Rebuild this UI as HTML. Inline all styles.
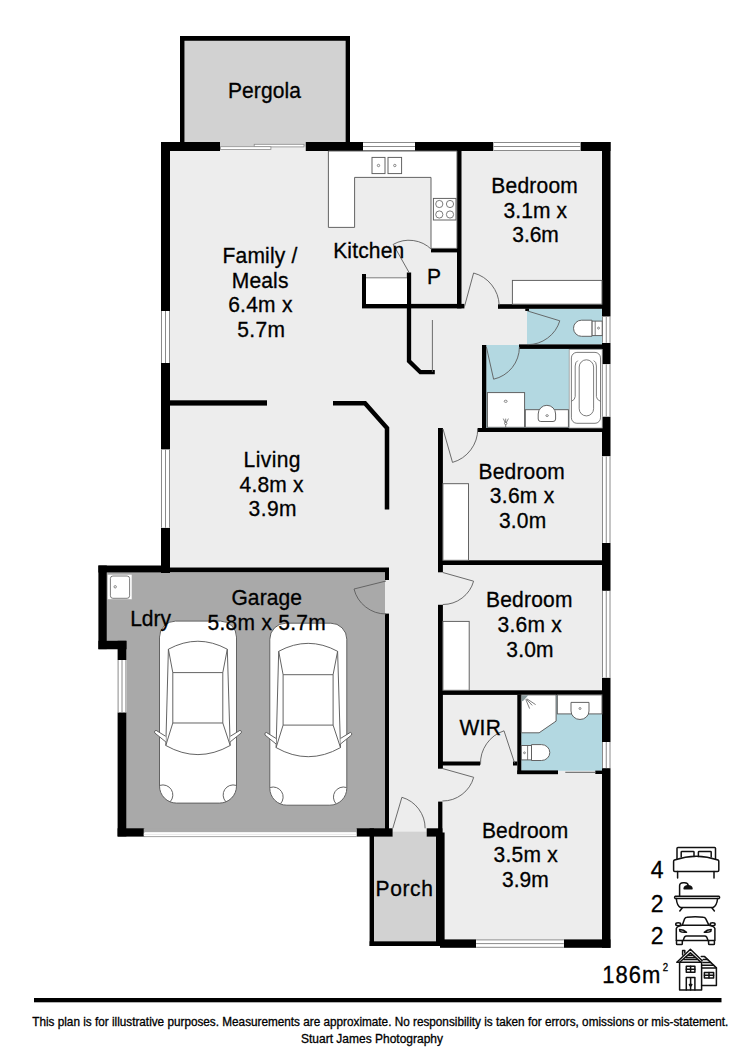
<!DOCTYPE html><html><head><meta charset="utf-8"><style>html,body{margin:0;padding:0;background:#fff;}svg{display:block;}text{font-family:"Liberation Sans",sans-serif;}</style></head><body>
<svg width="750" height="1061" viewBox="0 0 750 1061">
<rect width="750" height="1061" fill="#fff"/>
<rect x="184.50" y="40.80" width="161.10" height="101.20" fill="#d2d2d2" />
<rect x="170.00" y="151.00" width="432.00" height="416.50" fill="#ededed" />
<rect x="385.00" y="567.00" width="217.00" height="373.00" fill="#ededed" />
<polygon points="106.8,572.5 385,572.5 385,829.3 126.4,829.3 126.4,649.2 106.8,649.2" fill="#a9a9a9"/>
<rect x="374.00" y="836.00" width="62.00" height="105.30" fill="#d2d2d2" />
<rect x="392.60" y="831.70" width="34.10" height="4.90" fill="#d2d2d2" />
<rect x="527.00" y="308.80" width="75.00" height="35.60" fill="#b3d8e1" />
<rect x="486.30" y="345.00" width="115.70" height="83.00" fill="#b3d8e1" />
<rect x="521.30" y="694.90" width="80.70" height="75.90" fill="#b3d8e1" />
<rect x="180.00" y="36.00" width="170.00" height="4.80" fill="#000" />
<rect x="180.00" y="36.00" width="4.50" height="106.00" fill="#000" />
<rect x="345.60" y="36.00" width="4.40" height="106.00" fill="#000" />
<rect x="161.00" y="142.00" width="59.00" height="9.00" fill="#000" />
<rect x="305.50" y="142.00" width="57.50" height="9.00" fill="#000" />
<rect x="415.00" y="142.00" width="78.50" height="9.00" fill="#000" />
<rect x="580.40" y="142.00" width="30.10" height="9.00" fill="#000" />
<rect x="161.00" y="142.00" width="9.00" height="169.00" fill="#000" />
<rect x="161.00" y="363.00" width="9.00" height="86.60" fill="#000" />
<rect x="161.00" y="527.70" width="9.00" height="45.30" fill="#000" />
<rect x="602.00" y="142.00" width="8.50" height="174.70" fill="#000" />
<rect x="602.00" y="342.80" width="8.50" height="21.50" fill="#000" />
<rect x="602.00" y="416.50" width="8.50" height="39.90" fill="#000" />
<rect x="602.00" y="542.90" width="8.50" height="48.00" fill="#000" />
<rect x="602.00" y="677.60" width="8.50" height="64.40" fill="#000" />
<rect x="602.00" y="768.10" width="8.50" height="179.70" fill="#000" />
<rect x="440.00" y="939.40" width="36.10" height="8.40" fill="#000" />
<rect x="563.80" y="939.40" width="46.70" height="8.40" fill="#000" />
<rect x="98.40" y="565.50" width="71.60" height="7.00" fill="#000" />
<rect x="170.00" y="567.50" width="219.00" height="4.80" fill="#000" />
<rect x="98.40" y="565.50" width="8.40" height="83.70" fill="#000" />
<rect x="98.40" y="640.80" width="28.00" height="8.40" fill="#000" />
<rect x="117.60" y="640.80" width="8.80" height="19.20" fill="#000" />
<rect x="117.60" y="712.30" width="8.80" height="124.10" fill="#000" />
<rect x="117.60" y="828.30" width="27.00" height="8.30" fill="#000" />
<rect x="356.50" y="828.30" width="36.10" height="8.30" fill="#000" />
<rect x="426.70" y="828.30" width="15.70" height="8.30" fill="#000" />
<rect x="385.00" y="568.00" width="4.00" height="12.00" fill="#000" />
<rect x="385.00" y="613.60" width="4.00" height="215.40" fill="#000" />
<rect x="369.60" y="828.30" width="4.40" height="117.70" fill="#000" />
<rect x="369.60" y="941.30" width="70.40" height="4.70" fill="#000" />
<rect x="436.00" y="832.50" width="8.60" height="113.50" fill="#000" />
<rect x="220.00" y="142.00" width="85.50" height="4.50" fill="#d2d2d2" />
<rect x="220.00" y="146.50" width="85.50" height="4.50" fill="#ededed" />
<rect x="254.2" y="144.3" width="49.8" height="2.6" fill="#fff" stroke="#8a8a8a" stroke-width="0.8"/>
<rect x="220.5" y="146.7" width="50.4" height="2.7" fill="#fff" stroke="#8a8a8a" stroke-width="0.8"/>
<rect x="363.00" y="142.00" width="52.00" height="9.00" fill="#fff" />
<line x1="363" y1="142.50" x2="415" y2="142.50" stroke="#8a8a8a" stroke-width="1"/>
<line x1="363" y1="146.50" x2="415" y2="146.50" stroke="#8a8a8a" stroke-width="1"/>
<line x1="363" y1="150.50" x2="415" y2="150.50" stroke="#8a8a8a" stroke-width="1"/>
<rect x="493.50" y="142.00" width="86.90" height="9.00" fill="#fff" />
<line x1="493.5" y1="142.50" x2="580.4" y2="142.50" stroke="#8a8a8a" stroke-width="1"/>
<line x1="493.5" y1="146.50" x2="580.4" y2="146.50" stroke="#8a8a8a" stroke-width="1"/>
<line x1="493.5" y1="150.50" x2="580.4" y2="150.50" stroke="#8a8a8a" stroke-width="1"/>
<rect x="161.00" y="311.00" width="9.00" height="52.00" fill="#fff" />
<line x1="161.50" y1="311" x2="161.50" y2="363" stroke="#8a8a8a" stroke-width="1"/>
<line x1="165.50" y1="311" x2="165.50" y2="363" stroke="#8a8a8a" stroke-width="1"/>
<line x1="169.50" y1="311" x2="169.50" y2="363" stroke="#8a8a8a" stroke-width="1"/>
<rect x="161.00" y="449.60" width="9.00" height="78.10" fill="#fff" />
<line x1="161.50" y1="449.6" x2="161.50" y2="527.7" stroke="#8a8a8a" stroke-width="1"/>
<line x1="165.50" y1="449.6" x2="165.50" y2="527.7" stroke="#8a8a8a" stroke-width="1"/>
<line x1="169.50" y1="449.6" x2="169.50" y2="527.7" stroke="#8a8a8a" stroke-width="1"/>
<rect x="602.00" y="316.70" width="8.50" height="26.10" fill="#fff" />
<line x1="602.50" y1="316.7" x2="602.50" y2="342.8" stroke="#8a8a8a" stroke-width="1"/>
<line x1="606.25" y1="316.7" x2="606.25" y2="342.8" stroke="#8a8a8a" stroke-width="1"/>
<line x1="610.00" y1="316.7" x2="610.00" y2="342.8" stroke="#8a8a8a" stroke-width="1"/>
<rect x="602.00" y="364.30" width="8.50" height="52.20" fill="#fff" />
<line x1="602.50" y1="364.3" x2="602.50" y2="416.5" stroke="#8a8a8a" stroke-width="1"/>
<line x1="606.25" y1="364.3" x2="606.25" y2="416.5" stroke="#8a8a8a" stroke-width="1"/>
<line x1="610.00" y1="364.3" x2="610.00" y2="416.5" stroke="#8a8a8a" stroke-width="1"/>
<rect x="602.00" y="456.40" width="8.50" height="86.50" fill="#fff" />
<line x1="602.50" y1="456.4" x2="602.50" y2="542.9" stroke="#8a8a8a" stroke-width="1"/>
<line x1="606.25" y1="456.4" x2="606.25" y2="542.9" stroke="#8a8a8a" stroke-width="1"/>
<line x1="610.00" y1="456.4" x2="610.00" y2="542.9" stroke="#8a8a8a" stroke-width="1"/>
<rect x="602.00" y="590.90" width="8.50" height="86.70" fill="#fff" />
<line x1="602.50" y1="590.9" x2="602.50" y2="677.6" stroke="#8a8a8a" stroke-width="1"/>
<line x1="606.25" y1="590.9" x2="606.25" y2="677.6" stroke="#8a8a8a" stroke-width="1"/>
<line x1="610.00" y1="590.9" x2="610.00" y2="677.6" stroke="#8a8a8a" stroke-width="1"/>
<rect x="602.00" y="742.00" width="8.50" height="26.10" fill="#fff" />
<line x1="602.50" y1="742" x2="602.50" y2="768.1" stroke="#8a8a8a" stroke-width="1"/>
<line x1="606.25" y1="742" x2="606.25" y2="768.1" stroke="#8a8a8a" stroke-width="1"/>
<line x1="610.00" y1="742" x2="610.00" y2="768.1" stroke="#8a8a8a" stroke-width="1"/>
<rect x="476.10" y="939.40" width="87.70" height="8.40" fill="#fff" />
<line x1="476.1" y1="939.90" x2="563.8" y2="939.90" stroke="#8a8a8a" stroke-width="1"/>
<line x1="476.1" y1="943.60" x2="563.8" y2="943.60" stroke="#8a8a8a" stroke-width="1"/>
<line x1="476.1" y1="947.30" x2="563.8" y2="947.30" stroke="#8a8a8a" stroke-width="1"/>
<rect x="117.60" y="660.00" width="8.80" height="52.30" fill="#fff" />
<line x1="118.10" y1="660" x2="118.10" y2="712.3" stroke="#8a8a8a" stroke-width="1"/>
<line x1="122.00" y1="660" x2="122.00" y2="712.3" stroke="#8a8a8a" stroke-width="1"/>
<line x1="125.90" y1="660" x2="125.90" y2="712.3" stroke="#8a8a8a" stroke-width="1"/>
<rect x="143.70" y="828.30" width="212.80" height="4.10" fill="#a9a9a9" />
<rect x="143.70" y="832.40" width="212.80" height="3.80" fill="#fff" />
<line x1="143.7" y1="834.4" x2="356.5" y2="834.4" stroke="#d8d8d8" stroke-width="0.6"/>
<line x1="143.7" y1="836.6" x2="356.5" y2="836.6" stroke="#9a9a9a" stroke-width="0.9"/>
<rect x="457.00" y="151.00" width="4.50" height="157.40" fill="#000" />
<rect x="431.00" y="248.40" width="30.00" height="4.00" fill="#000" />
<rect x="362.00" y="303.90" width="102.40" height="4.50" fill="#000" />
<rect x="362.00" y="274.00" width="4.00" height="30.00" fill="#000" />
<polyline points="409,272.4 409,361 420.4,372.2 434.8,372.2" fill="none" stroke="#000" stroke-width="4.3"/>
<rect x="498.00" y="304.20" width="104.00" height="4.60" fill="#000" />
<rect x="519.00" y="344.40" width="83.00" height="4.50" fill="#000" />
<rect x="482.00" y="345.00" width="4.30" height="87.00" fill="#000" />
<rect x="477.60" y="428.00" width="124.40" height="4.00" fill="#000" />
<rect x="438.00" y="428.00" width="4.90" height="144.30" fill="#000" />
<rect x="438.00" y="604.80" width="4.90" height="163.90" fill="#000" />
<rect x="438.00" y="560.30" width="164.00" height="4.70" fill="#000" />
<rect x="438.00" y="690.30" width="164.00" height="4.60" fill="#000" />
<rect x="517.30" y="694.80" width="4.00" height="79.20" fill="#000" />
<rect x="438.00" y="761.50" width="42.00" height="4.00" fill="#000" />
<rect x="513.00" y="761.50" width="4.30" height="4.00" fill="#000" />
<rect x="517.30" y="770.40" width="40.70" height="3.80" fill="#000" />
<rect x="595.30" y="770.60" width="6.70" height="3.40" fill="#000" />
<rect x="438.10" y="801.60" width="4.30" height="34.40" fill="#000" />
<rect x="170.00" y="400.30" width="97.00" height="5.30" fill="#000" />
<polyline points="333,403.2 365,403.2 387,428 387,509.6" fill="none" stroke="#000" stroke-width="4.5"/>
<polygon points="328.4,151 457,151 457,248.4 431,248.4 431,177.4 354.6,177.4 354.6,227.4 328.4,227.4" fill="#fff" stroke="#5c5c5c" stroke-width="0.95"/>
<rect x="372" y="157.4" width="13" height="16.2" fill="#fff" stroke="#5c5c5c" stroke-width="0.95"/><rect x="388" y="157.4" width="13.6" height="16.2" fill="#fff" stroke="#5c5c5c" stroke-width="0.95"/>
<circle cx="378.5" cy="165.5" r="1.2" fill="none" stroke="#5c5c5c" stroke-width="0.7"/><circle cx="394.8" cy="165.5" r="1.2" fill="none" stroke="#5c5c5c" stroke-width="0.7"/>
<rect x="433.4" y="198.4" width="22.6" height="21.6" fill="#fff" stroke="#5c5c5c" stroke-width="0.95"/>
<circle cx="439.3" cy="204" r="3.6" fill="none" stroke="#5c5c5c" stroke-width="0.8"/>
<circle cx="439.3" cy="214.5" r="3.6" fill="none" stroke="#5c5c5c" stroke-width="0.8"/>
<circle cx="450" cy="204" r="3.6" fill="none" stroke="#5c5c5c" stroke-width="0.8"/>
<circle cx="450" cy="214.5" r="3.6" fill="none" stroke="#5c5c5c" stroke-width="0.8"/>
<rect x="366.00" y="277.50" width="41.00" height="26.50" fill="#fff" />
<line x1="366" y1="277.8" x2="407" y2="277.8" stroke="#5c5c5c" stroke-width="0.8"/>
<rect x="512.4" y="280.4" width="89.6" height="23.8" fill="#fff" stroke="#5c5c5c" stroke-width="0.95"/>
<rect x="442.9" y="483.7" width="25.6" height="76.6" fill="#fff" stroke="#5c5c5c" stroke-width="0.95"/>
<rect x="442.9" y="621.4" width="26.3" height="68.9" fill="#fff" stroke="#5c5c5c" stroke-width="0.95"/>
<rect x="569.2" y="349.5" width="33" height="78.5" fill="#fff" stroke="#9a9a9a" stroke-width="0.8"/>
<rect x="571.4" y="352.4" width="29.1" height="70.9" rx="5.5" fill="none" stroke="#5c5c5c" stroke-width="0.8"/>
<path d="M577.8,360.6 Q575.2,362 575.2,366 V396.5 Q575.2,399.6 571.5,401.3 M593.8,360.6 Q596.4,362 596.4,366 V396.5 Q596.4,399.6 600.4,401.3" fill="none" stroke="#5c5c5c" stroke-width="0.8"/>
<rect x="579.2" y="359.8" width="14.4" height="56.1" rx="7.2" fill="none" stroke="#5c5c5c" stroke-width="0.8"/>
<rect x="487.4" y="392.6" width="37.2" height="34.7" fill="#fff" stroke="#5c5c5c" stroke-width="0.95"/>
<ellipse cx="505.7" cy="401.3" rx="1.5" ry="1.1" fill="none" stroke="#5c5c5c" stroke-width="0.7"/>
<rect x="525.3" y="409.7" width="43.1" height="17.6" fill="#fff" stroke="#5c5c5c" stroke-width="0.95"/>
<path d="M538.2,419 V414 A8.7,8.7 0 0 1 555.6,414 V419 Q555.6,421.5 553,421.5 H540.8 Q538.2,421.5 538.2,419 Z" fill="#fff" stroke="#5c5c5c" stroke-width="0.95"/>
<ellipse cx="547.1" cy="415.6" rx="1.3" ry="0.9" fill="none" stroke="#5c5c5c" stroke-width="0.7"/>
<rect x="591.9" y="321.1" width="10.3" height="14.5" fill="#fff" stroke="#5c5c5c" stroke-width="0.95"/>
<line x1="595.2" y1="321.1" x2="595.2" y2="335.6" stroke="#5c5c5c" stroke-width="0.8"/>
<path d="M591.9,320.2 L581.5,320.2 A8,8.05 0 0 0 581.5,336.3 L591.9,336.3 Z" fill="#fff" stroke="#5c5c5c" stroke-width="0.95"/>
<polygon points="521.3,694.9 556.1,694.9 556.1,721.1 539.1,732.8 521.3,732.8" fill="#fff" stroke="#5c5c5c" stroke-width="0.95"/>
<rect x="557.3" y="694.9" width="44.7" height="19" fill="#fff" stroke="#5c5c5c" stroke-width="0.95"/>
<path d="M571,702.4 L589,702.4 L589,711 A9,8.5 0 0 1 571,711 Z" fill="#fff" stroke="#5c5c5c" stroke-width="0.95"/>
<circle cx="580" cy="708.5" r="1" fill="none" stroke="#5c5c5c" stroke-width="0.7"/>
<rect x="521.3" y="745.5" width="10.2" height="14.4" fill="#fff" stroke="#5c5c5c" stroke-width="0.95"/>
<line x1="527.6" y1="745.5" x2="527.6" y2="759.9" stroke="#5c5c5c" stroke-width="0.8"/>
<path d="M531.5,744.6 L541.5,744.6 A8.3,7.95 0 0 1 541.5,760.5 L531.5,760.5 Z" fill="#fff" stroke="#5c5c5c" stroke-width="0.95"/>
<path d="M503.3,418.6 L505.2,422.6 M505.7,418.6 V422.2 M508.4,418.6 L506.3,422.6 M505.7,424.6 V427.3" fill="none" stroke="#5c5c5c" stroke-width="0.75"/>
<circle cx="505.7" cy="423.4" r="1.2" fill="none" stroke="#5c5c5c" stroke-width="0.75"/>
<circle cx="598.5" cy="328.1" r="1" fill="none" stroke="#5c5c5c" stroke-width="0.7"/>
<circle cx="524.5" cy="752.8" r="0.9" fill="none" stroke="#5c5c5c" stroke-width="0.7"/>
<path d="M521.6,695.2 L528.2,695.2 L523.6,700.4 L521.6,701.4 Z" fill="#8a9a9c"/>
<path d="M525.8,699.4 L529.6,708.6 M526.4,699.2 L532.2,705.4 M526.8,698.8 L535.6,704.6" fill="none" stroke="#5c5c5c" stroke-width="0.8"/>
<rect x="525.30" y="308.50" width="3.70" height="2.50" fill="#000" />
<rect x="107.3" y="574.3" width="24.7" height="25.2" fill="#fff" stroke="#aaa" stroke-width="0.6"/>
<rect x="110.4" y="576" width="19.2" height="22.3" rx="2.5" fill="none" stroke="#5c5c5c" stroke-width="0.8"/>
<circle cx="115.2" cy="586.8" r="1.2" fill="none" stroke="#5c5c5c" stroke-width="0.7"/>
<path d="M409.00,272.40 L393.20,244.40 A32.15,32.15 0 0 1 431.53,249.46" fill="none" stroke="#5c5c5c" stroke-width="0.9"/>
<path d="M464.50,306.50 L473.60,273.00 A34.71,34.71 0 0 1 499.19,305.26" fill="none" stroke="#5c5c5c" stroke-width="0.9"/>
<path d="M527.60,311.00 L559.80,320.80 A33.66,33.66 0 0 1 527.60,344.66" fill="none" stroke="#5c5c5c" stroke-width="0.9"/>
<path d="M486.40,347.00 L493.60,379.20 A33.00,33.00 0 0 0 519.40,347.00" fill="none" stroke="#5c5c5c" stroke-width="0.9"/>
<path d="M443.00,429.00 L452.50,462.40 A34.72,34.72 0 0 0 477.72,429.00" fill="none" stroke="#5c5c5c" stroke-width="0.9"/>
<path d="M386.00,581.00 L354.00,589.00 A32.98,32.98 0 0 0 386.00,613.98" fill="none" stroke="#5c5c5c" stroke-width="0.9"/>
<path d="M442.80,572.50 L473.60,581.20 A32.01,32.01 0 0 1 442.80,604.51" fill="none" stroke="#5c5c5c" stroke-width="0.9"/>
<path d="M514.70,763.30 L504.00,730.80 A34.22,34.22 0 0 0 480.51,764.68" fill="none" stroke="#5c5c5c" stroke-width="0.9"/>
<path d="M442.40,768.50 L473.70,777.30 A32.51,32.51 0 0 1 442.40,801.01" fill="none" stroke="#5c5c5c" stroke-width="0.9"/>
<path d="M392.80,828.30 L401.90,797.30 A32.31,32.31 0 0 1 425.11,828.30" fill="none" stroke="#5c5c5c" stroke-width="0.9"/>
<line x1="432.4" y1="320" x2="432.4" y2="372" stroke="#5c5c5c" stroke-width="0.9"/>
<line x1="565.3" y1="772.3" x2="595.3" y2="772.3" stroke="#5c5c5c" stroke-width="1"/>
<g transform="translate(159.5,621.1)"><g fill="none" stroke="#5c5c5c" stroke-width="0.95">
<path d="M16,0 H61 A16,16 0 0 1 77,16 V165 A17,17 0 0 1 60,182 H17 A17,17 0 0 1 0,165 V16 A16,16 0 0 1 16,0 Z" fill="#fff"/>
<path d="M8.9,28.1 Q38.4,12.2 67.8,28.1 L63.3,51.5 L13.3,51.5 Z"/>
<path d="M13.3,51.5 V101.9 H63.3 V51.5"/>
<path d="M13.3,101.9 L6.3,124.4 Q38.4,142.6 70.7,124.4 L63.3,101.9"/>
<path d="M8.9,28.1 L6.3,124.4 M67.8,28.1 L70.7,124.4"/>
<path d="M6.2,115.2 L-3.5,109.2 Q-5.5,109.4 -4.8,111.8 L6.3,120.8" fill="#fff"/>
<path d="M70.8,115.2 L80.5,109.2 Q82.5,109.4 81.8,111.8 L70.7,120.8" fill="#fff"/>
<path d="M0.3,164.3 A10,10 0 0 1 10.7,180.6"/>
<path d="M76.7,164.3 A10,10 0 0 0 66.3,180.6"/>
</g></g>
<g transform="translate(269.8,623.2)"><g fill="none" stroke="#5c5c5c" stroke-width="0.95">
<path d="M16,0 H61 A16,16 0 0 1 77,16 V165 A17,17 0 0 1 60,182 H17 A17,17 0 0 1 0,165 V16 A16,16 0 0 1 16,0 Z" fill="#fff"/>
<path d="M8.9,28.1 Q38.4,12.2 67.8,28.1 L63.3,51.5 L13.3,51.5 Z"/>
<path d="M13.3,51.5 V101.9 H63.3 V51.5"/>
<path d="M13.3,101.9 L6.3,124.4 Q38.4,142.6 70.7,124.4 L63.3,101.9"/>
<path d="M8.9,28.1 L6.3,124.4 M67.8,28.1 L70.7,124.4"/>
<path d="M6.2,115.2 L-3.5,109.2 Q-5.5,109.4 -4.8,111.8 L6.3,120.8" fill="#fff"/>
<path d="M70.8,115.2 L80.5,109.2 Q82.5,109.4 81.8,111.8 L70.7,120.8" fill="#fff"/>
<path d="M0.3,164.3 A10,10 0 0 1 10.7,180.6"/>
<path d="M76.7,164.3 A10,10 0 0 0 66.3,180.6"/>
</g></g>
<text transform="translate(228.00,98.00) scale(1,1.05)" font-size="21" text-anchor="start" fill="#000" stroke="#000" stroke-width="0.3" letter-spacing="0.100">Pergola</text>
<text transform="translate(491.30,192.90) scale(1,1.05)" font-size="21" text-anchor="start" fill="#000" stroke="#000" stroke-width="0.3" letter-spacing="0.233">Bedroom</text>
<text transform="translate(503.40,217.70) scale(1,1.05)" font-size="21" text-anchor="start" fill="#000" stroke="#000" stroke-width="0.3" letter-spacing="0.120">3.1m x</text>
<text transform="translate(512.30,242.00) scale(1,1.05)" font-size="21" text-anchor="start" fill="#000" stroke="#000" stroke-width="0.3" letter-spacing="-0.067">3.6m</text>
<text transform="translate(222.60,263.40) scale(1,1.05)" font-size="21" text-anchor="start" fill="#000" stroke="#000" stroke-width="0.3" letter-spacing="0.171">Family /</text>
<text transform="translate(231.80,287.80) scale(1,1.05)" font-size="21" text-anchor="start" fill="#000" stroke="#000" stroke-width="0.3" letter-spacing="0.150">Meals</text>
<text transform="translate(228.20,312.40) scale(1,1.05)" font-size="21" text-anchor="start" fill="#000" stroke="#000" stroke-width="0.3" letter-spacing="0.240">6.4m x</text>
<text transform="translate(237.20,337.00) scale(1,1.05)" font-size="21" text-anchor="start" fill="#000" stroke="#000" stroke-width="0.3" letter-spacing="0.400">5.7m</text>
<text transform="translate(333.20,257.80) scale(1,1.05)" font-size="21" text-anchor="start" fill="#000" stroke="#000" stroke-width="0.3" letter-spacing="0.167">Kitchen</text>
<text transform="translate(427.00,284.40) scale(1,1.05)" font-size="21" text-anchor="start" fill="#000" stroke="#000" stroke-width="0.3" letter-spacing="0.000">P</text>
<text transform="translate(243.60,467.00) scale(1,1.05)" font-size="21" text-anchor="start" fill="#000" stroke="#000" stroke-width="0.3" letter-spacing="0.400">Living</text>
<text transform="translate(239.60,491.60) scale(1,1.05)" font-size="21" text-anchor="start" fill="#000" stroke="#000" stroke-width="0.3" letter-spacing="0.160">4.8m x</text>
<text transform="translate(248.60,515.80) scale(1,1.05)" font-size="21" text-anchor="start" fill="#000" stroke="#000" stroke-width="0.3" letter-spacing="0.400">3.9m</text>
<text transform="translate(478.50,478.90) scale(1,1.05)" font-size="21" text-anchor="start" fill="#000" stroke="#000" stroke-width="0.3" letter-spacing="0.183">Bedroom</text>
<text transform="translate(489.80,503.40) scale(1,1.05)" font-size="21" text-anchor="start" fill="#000" stroke="#000" stroke-width="0.3" letter-spacing="0.300">3.6m x</text>
<text transform="translate(499.00,528.30) scale(1,1.05)" font-size="21" text-anchor="start" fill="#000" stroke="#000" stroke-width="0.3" letter-spacing="0.167">3.0m</text>
<text transform="translate(485.90,606.80) scale(1,1.05)" font-size="21" text-anchor="start" fill="#000" stroke="#000" stroke-width="0.3" letter-spacing="0.233">Bedroom</text>
<text transform="translate(497.52,631.90) scale(1,1.05)" font-size="21" text-anchor="start" fill="#000" stroke="#000" stroke-width="0.3" letter-spacing="0.233">3.6m x</text>
<text transform="translate(506.25,656.60) scale(1,1.05)" font-size="21" text-anchor="start" fill="#000" stroke="#000" stroke-width="0.3" letter-spacing="0.233">3.0m</text>
<text transform="translate(231.40,605.20) scale(1,1.05)" font-size="21" text-anchor="start" fill="#000" stroke="#000" stroke-width="0.3" letter-spacing="0.120">Garage</text>
<text transform="translate(207.60,629.80) scale(1,1.05)" font-size="21" text-anchor="start" fill="#000" stroke="#000" stroke-width="0.3" letter-spacing="0.260">5.8m x 5.7m</text>
<text transform="translate(130.20,625.60) scale(1,1.05)" font-size="21" text-anchor="start" fill="#000" stroke="#000" stroke-width="0.3" letter-spacing="0.000">Ldry</text>
<text transform="translate(459.50,734.80) scale(1,1.05)" font-size="21" text-anchor="start" fill="#000" stroke="#000" stroke-width="0.3" letter-spacing="0.250">WIR</text>
<text transform="translate(481.90,838.00) scale(1,1.05)" font-size="21" text-anchor="start" fill="#000" stroke="#000" stroke-width="0.3" letter-spacing="0.183">Bedroom</text>
<text transform="translate(493.50,862.20) scale(1,1.05)" font-size="21" text-anchor="start" fill="#000" stroke="#000" stroke-width="0.3" letter-spacing="0.240">3.5m x</text>
<text transform="translate(502.00,887.20) scale(1,1.05)" font-size="21" text-anchor="start" fill="#000" stroke="#000" stroke-width="0.3" letter-spacing="0.000">3.9m</text>
<text transform="translate(375.60,896.20) scale(1,1.05)" font-size="21" text-anchor="start" fill="#000" stroke="#000" stroke-width="0.3" letter-spacing="0.600">Porch</text>
<text transform="translate(663.50,877.80) scale(1,1.05)" font-size="23" text-anchor="end" fill="#000" stroke="#000" stroke-width="0.3" letter-spacing="0.000">4</text>
<text transform="translate(663.50,911.80) scale(1,1.05)" font-size="23" text-anchor="end" fill="#000" stroke="#000" stroke-width="0.3" letter-spacing="0.000">2</text>
<text transform="translate(663.50,943.60) scale(1,1.05)" font-size="23" text-anchor="end" fill="#000" stroke="#000" stroke-width="0.3" letter-spacing="0.000">2</text>
<text transform="translate(602.20,983.30) scale(1,1.05)" font-size="22" text-anchor="start" fill="#000" stroke="#000" stroke-width="0.3" letter-spacing="1.000">186m</text>
<text transform="translate(662.80,971.20) scale(1,1.05)" font-size="9.6" text-anchor="start" fill="#000" stroke="#000" stroke-width="0.3" letter-spacing="0.000">2</text>
<g fill="none" stroke="#111" stroke-width="1.5" stroke-linejoin="round" stroke-linecap="round"><path d="M677,859 V848.2 Q677,847.4 678,847.4 H714.6 Q715.5,847.4 715.5,848.2 V859"/><path d="M681.2,857 V852.2 Q681.2,851.5 682,851.5 H693.3 Q694,851.5 694,852.2 V856.5"/><path d="M698.4,856.5 V852.2 Q698.4,851.5 699.2,851.5 H710.5 Q711.2,851.5 711.2,852.2 V857"/><path d="M674.5,860 Q696.3,852.5 718,860 Q718.8,860.4 718.8,861.5 V870.3 Q718.8,871.4 717.6,871.4 H674.8 Q673.6,871.4 673.6,870.3 V861.5 Q673.6,860.4 674.5,860 Z"/><path d="M677.6,871.5 V878 M714,871.5 V878"/></g>
<g fill="none" stroke="#111" stroke-width="1.5" stroke-linejoin="round" stroke-linecap="round"><path d="M675.2,896.3 H719 Q720.2,897.4 719,898.5 H675.2 Q674,897.4 675.2,896.3 Z"/><path d="M676.3,898.5 Q677,906 680.5,907.5 H713 Q716.8,906 717.6,898.5"/><path d="M682.2,908 L679.8,911 M712,908 L714.4,911"/><path d="M679.6,896.3 V885.8 Q679.6,882.7 683.2,882.7 H684.6 Q688.1,882.8 688.2,885.6"/><path d="M684.1,888.7 Q684.4,885.7 688.1,885.7 Q691.7,885.7 692,888.7 Z" fill="#111"/></g>
<g fill="none" stroke="#111" stroke-width="1.5" stroke-linejoin="round" stroke-linecap="round"><path d="M682.3,925.2 L684.6,918.8 Q685.4,917.3 687,917.2 Q695.2,916.2 703.4,917.2 Q705,917.3 705.8,918.8 L708.9,925.2 Z"/><ellipse cx="678.2" cy="924.2" rx="2.5" ry="1.5"/><ellipse cx="712.6" cy="924.2" rx="2.5" ry="1.5"/><path d="M682.3,925.2 Q677.2,926 676.3,928.5 V940.4 H714.9 V928.5 Q714,926 708.9,925.2"/><path d="M679.6,929.4 Q684,929.6 686.5,932.2 Q682,932.6 680,931.3 Z"/><path d="M711.2,929.4 Q706.8,929.6 704.3,932.2 Q708.8,932.6 710.8,931.3 Z"/><path d="M683.4,940.4 Q684,936 686.5,935.9 H704.6 Q707.2,936 707.8,940.4"/><path d="M676.5,940.4 V943.8 Q676.5,944.6 677.3,944.6 H681.5 Q682.3,944.6 682.3,943.8 V940.4"/><path d="M708.6,940.4 V943.8 Q708.6,944.6 709.4,944.6 H713.6 Q714.4,944.6 714.4,943.8 V940.4"/></g>
<g fill="none" stroke="#111" stroke-width="1.5" stroke-linejoin="round" stroke-linecap="round"><path d="M676.9,962.3 L690.4,949.2 L702.2,960.8 M680.2,961.8 L690.4,952.9 L700.2,961.6"/><path d="M677.2,962.3 H701.6"/><path d="M682.6,955.1 V950.4 H684.8 V953"/><path d="M688.6,955.2 H692.2 M686.2,957.4 H694.6 M683.8,959.6 H697"/><path d="M679.6,962.5 V990 H701.6 V962.3"/><path d="M701.3,956.6 H704.6 L716.4,967.9 V985.6 H701.6"/><path d="M703.2,959.4 H707.6 M703,962.4 H710.6 M701.8,965.3 H713.6 M701.8,967.9 H716.4"/><rect x="686.3" y="966.3" width="8.6" height="6"/><path d="M686.3,969.3 H694.9 M690.6,966.3 V972.3"/><rect x="704.4" y="972.5" width="9.2" height="5.6"/><path d="M704.4,975.3 H713.6 M709,972.5 V978.1"/><path d="M686.3,990 V977.4 H694.9 V990 M690.6,977.4 V990"/><path d="M689.4,984.6 H691.8 L690.6,986.4 Z" fill="#111"/></g>
<rect x="34.00" y="998.00" width="687.50" height="4.30" fill="#000" />
<text transform="translate(380.30,1026.00) scale(1,1.05)" font-size="11.76" text-anchor="middle" fill="#000" stroke="#000" stroke-width="0.3" letter-spacing="0.000">This plan is for illustrative purposes. Measurements are approximate. No responsibility is taken for errors, omissions or mis-statement.</text>
<text transform="translate(372.00,1043.00) scale(1,1.05)" font-size="12" text-anchor="middle" fill="#000" stroke="#000" stroke-width="0.3" letter-spacing="0.000">Stuart James Photography</text>
</svg></body></html>
